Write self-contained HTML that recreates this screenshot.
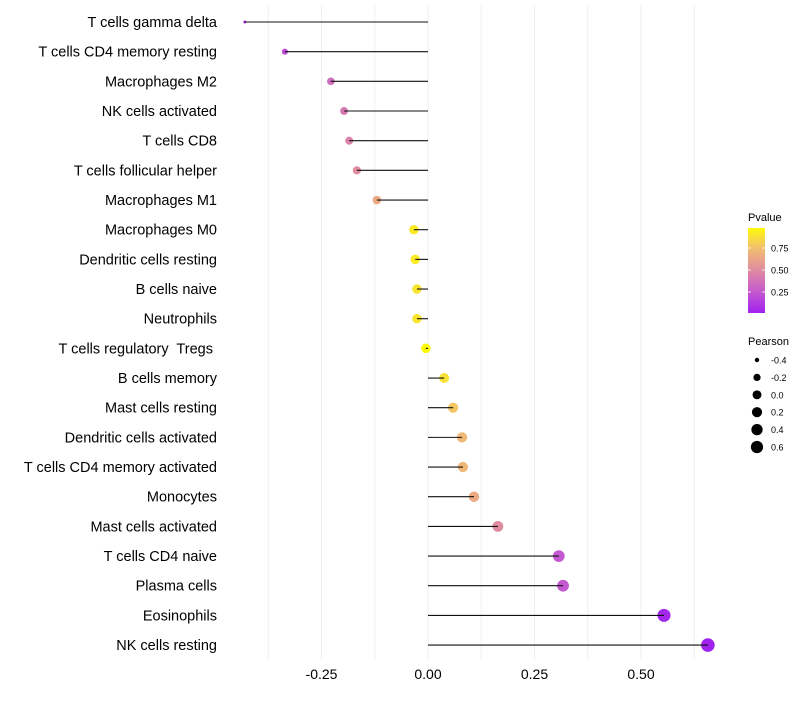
<!DOCTYPE html>
<html><head><meta charset="utf-8"><style>
body{margin:0;background:#fff;font-family:"Liberation Sans",sans-serif}
text{white-space:pre}
</style></head><body>
<svg id="chart" width="800" height="700" xmlns="http://www.w3.org/2000/svg"></svg>
<script>
const categories=["T cells gamma delta","T cells CD4 memory resting","Macrophages M2","NK cells activated","T cells CD8","T cells follicular helper","Macrophages M1","Macrophages M0","Dendritic cells resting","B cells naive","Neutrophils","T cells regulatory  Tregs ","B cells memory","Mast cells resting","Dendritic cells activated","T cells CD4 memory activated","Monocytes","Mast cells activated","T cells CD4 naive","Plasma cells","Eosinophils","NK cells resting"];
const pearson=[-0.43,-0.336,-0.228,-0.197,-0.185,-0.167,-0.12,-0.033,-0.03,-0.026,-0.026,-0.005,0.038,0.059,0.08,0.082,0.108,0.164,0.307,0.317,0.554,0.657];
const pvalue=[0.05,0.2,0.35,0.4,0.45,0.5,0.65,0.92,0.92,0.9,0.9,0.98,0.88,0.78,0.72,0.72,0.65,0.5,0.25,0.25,0.03,0.01];
const xTicks=[-0.25,0,0.25,0.5];
const xTickLabels=["-0.25","0.00","0.25","0.50"];
const colorTicks=[0.25,0.5,0.75];
const sizeLegend=[-0.4,-0.2,0,0.2,0.4,0.6];

const svg=document.getElementById('chart');
const NS="http://www.w3.org/2000/svg";
function mk(t,a,p){const e=document.createElementNS(NS,t);for(const k in a)e.setAttribute(k,a[k]);(p||svg).appendChild(e);return e;}
const x=v=>428+v*426;
const y=i=>22+i*29.67;
const r=v=>1.5+5.3*Math.sqrt(Math.max(0,(v+0.43)/1.087));
function col(p){
  const stops=[[0,[160,32,240]],[0.25,[196,88,208]],[0.5,[224,140,160]],[0.75,[242,190,112]],[1,[255,255,0]]];
  let k=0;while(k<stops.length-2&&p>stops[k+1][0])k++;
  const a=stops[k],b=stops[k+1];
  const t=Math.min(1,Math.max(0,(p-a[0])/(b[0]-a[0])));
  const c=a[1].map((v,j)=>Math.round(v+(b[1][j]-v)*t));
  return `rgb(${c.join(',')})`;
}
// grid
const grid=mk('g',{});


[-0.375,-0.25,-0.125,0,0.125,0.25,0.375,0.5,0.625].forEach(v=>mk('line',{x1:x(v),x2:x(v),y1:5,y2:660,stroke:'#efefef','stroke-width':1},grid));
// marks
categories.forEach((c,i)=>{
  const d=mk('circle',{cx:x(pearson[i]),cy:y(i),r:r(pearson[i]),fill:col(pvalue[i])});
  
  
  const l=mk('line',{x1:x(0),x2:x(pearson[i]),y1:y(i),y2:y(i),stroke:'#111','stroke-width':1.1});
  
  
  const t=mk('text',{x:217,y:y(i)+5,'text-anchor':'end','font-size':14.5,fill:'#000'});
  t.textContent=c;
  
  
});
xTicks.forEach((v,i)=>{
  const t=mk('text',{x:x(v),y:679,'text-anchor':'middle','font-size':14,fill:'#000'});
  t.textContent=xTickLabels[i];
  
  
});
// color legend
const lt=mk('text',{x:748,y:221,'font-size':11});lt.textContent='Pvalue';


const defs=mk('defs',{});
const lg=mk('linearGradient',{id:'g',x1:0,y1:1,x2:0,y2:0},defs);
for(let k=0;k<=10;k++)mk('stop',{offset:k/10,'stop-color':col(0.01+k*0.097)},lg);
const bar=mk('rect',{x:748,y:228,width:17,height:85,fill:'url(#g)'});


colorTicks.forEach(v=>{
  const yy=314-v*88;
  mk('line',{x1:748,x2:751,y1:yy,y2:yy,stroke:'#fff','stroke-width':0.8});
  mk('line',{x1:762,x2:765,y1:yy,y2:yy,stroke:'#fff','stroke-width':0.8});
  const t=mk('text',{x:771,y:yy+3.5,'font-size':9});t.textContent=v.toFixed(2);
  
  
});
const st=mk('text',{x:748,y:345,'font-size':11});st.textContent='Pearson';


sizeLegend.forEach((v,i)=>{
  const yy=360+i*17.4;
  const c=mk('circle',{cx:757,cy:yy,r:r(v)*0.92,fill:'#000'});
  
  
  const t=mk('text',{x:771,y:yy+3.5,'font-size':9});t.textContent=v.toFixed(1).replace('-0.0','0.0');
  
  
});
</script>
</body></html>
